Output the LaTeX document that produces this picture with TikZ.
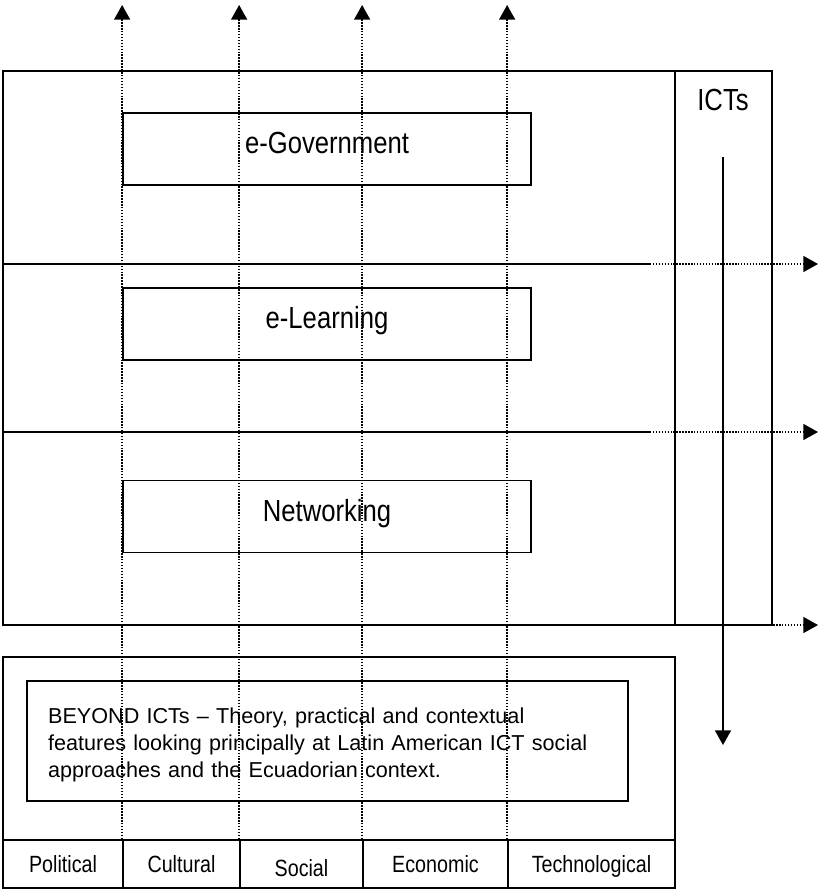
\documentclass[tikz,border=0pt]{standalone}
\usepackage{fontspec}
\setmainfont{Liberation Sans}
\newfontfamily\narrowfont{Liberation Sans}[FakeStretch=0.84]
\usetikzlibrary{arrows.meta}

\tikzset{
  frame/.style={line width=1.3pt},
  box/.style={draw, frame, minimum width=306pt, minimum height=54pt,
    text height=16.4pt, text depth=9pt,
    font=\narrowfont\fontsize{22.9}{27}\selectfont},
  cell/.style={draw, frame, minimum height=36pt, inner sep=0pt,
    text height=12.6pt, text depth=0pt,
    font=\narrowfont\fontsize{17.6}{20}\selectfont},
  dotarrow/.style={line width=1.1pt, dash pattern=on 1.1pt off 1.1pt,
    -{Triangle[width=12pt,length=11pt]}},
}

\begin{document}
\begin{tikzpicture}[x=0.75pt, y=-0.75pt]
\useasboundingbox (0,0) rectangle (820,889);
% upper frame and ICT column
\draw[frame] (3,71) rectangle (675,625);
\node[draw, frame, minimum width=72.75pt, minimum height=415.5pt] (ictcol) at (723.5,348) {};
\node[font=\narrowfont\fontsize{22.9}{27}\selectfont] (icts) at (723,100) {ICTs};
\coordinate (ictstart) at (723,157);
\coordinate (ictend) at (723,745);
\draw[line width=1.2pt, -{Triangle[width=12pt,length=11pt]}] (ictstart) -- (ictend);

% the three fields
\coordinate (sepA) at (650,264);
\coordinate (sepB) at (650,432);
\coordinate (sepC) at (650,625);
\draw[frame] (3,264) -- (sepA);
\draw[frame] (3,432) -- (sepB);
\node[box] (egov) at (327,149) {e-Government};
\node[box] (elearn) at (327,324) {e-Learning};
\node[box] (netw) at (327,516.5) {Networking};
\foreach \c in {sepA,sepB,sepC}
  \draw[dotarrow] (\c) -- ++(168,0);

% bottom frame
\draw[frame] (3,657) rectangle (675,840);
\node[draw, frame, minimum width=450.75pt, minimum height=90pt, text width=419pt,
  inner xsep=15.75pt, align=left, font=\fontsize{16.2}{20.25}\selectfont] (beyond) at (327.5,741)
  {\rule{0pt}{17.5pt}BEYOND ICTs -- Theory, practical and contextual\\
   features looking principally at Latin American ICT social\\
   approaches and the Ecuadorian context.};
\node[cell, minimum width=90pt] (political) at (63,864) {Political};
\node[cell, minimum width=87.75pt] (cultural) at (181.5,864) {Cultural};
\node[cell, minimum width=92.25pt] (social) at (301.5,864) {\raisebox{-3pt}{Social}};
\node[cell, minimum width=108.75pt] (economic) at (435.5,864) {Economic};
\node[cell, minimum width=125.25pt] (techno) at (591.5,864) {Technological};

% dimensions going up
\coordinate (top) at (0,5);
\foreach \n in {cultural,social,economic,techno}
  \draw[dotarrow] (\n.north west) -- (\n.north west |- top);
\end{tikzpicture}
\end{document}
